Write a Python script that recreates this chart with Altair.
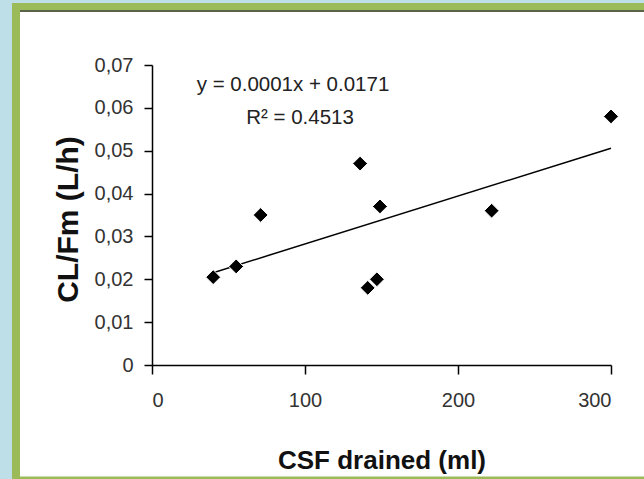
import altair as alt
import pandas as pd

# Data
csf_drained = [40, 55, 71, 136, 149, 147, 141, 222, 300]
cl_fm = [0.0205, 0.023, 0.035, 0.047, 0.037, 0.020, 0.018, 0.036, 0.058]
x_ticks = [0, 100, 200, 300]
y_ticks = [0, 0.01, 0.02, 0.03, 0.04, 0.05, 0.06, 0.07]
equation_text = "y = 0.0001x + 0.0171"
r2_text = "R² = 0.4513"
x_title = "CSF drained (ml)"
y_title = "CL/Fm (L/h)"

df = pd.DataFrame({"csf": csf_drained, "clfm": cl_fm})
one = pd.DataFrame({"k": [0]})

FONT = "Liberation Sans"

x_enc = alt.X(
    "csf:Q",
    scale=alt.Scale(domain=[0, 300], nice=False, zero=True),
    axis=alt.Axis(
        values=x_ticks, title=x_title, grid=False, zindex=1,
        domainColor="black", domainWidth=1.5, tickColor="black", tickWidth=1.5,
        tickSize=9, labelPadding=16, labelFont=FONT, labelFontSize=20,
        labelColor="#333333", titleFont=FONT, titleFontSize=26,
        titleFontWeight="bold", titleColor="#111111",
        titleY=103, titleBaseline="alphabetic",
    ),
)
y_enc = alt.Y(
    "clfm:Q",
    scale=alt.Scale(domain=[0, 0.07], nice=False),
    axis=alt.Axis(
        values=y_ticks, title=y_title, grid=False, zindex=1,
        labelExpr="datum.value == 0 ? '0' : replace(format(datum.value, '.2f'), '.', ',')",
        domainColor="black", domainWidth=1.5, tickColor="black", tickWidth=1.5,
        tickSize=8, labelPadding=11, labelFont=FONT, labelFontSize=20,
        labelColor="#333333", titleFont=FONT, titleFontSize=30,
        titleFontWeight="bold", titleColor="#111111",
        titleX=-75, titleY=154, titleBaseline="alphabetic",
    ),
)

green = alt.Chart(one).mark_rect(color="#9bbb59").encode(
    x=alt.value(-140), x2=alt.value(500), y=alt.value(-62), y2=alt.value(414)
)
white = alt.Chart(one).mark_rect(color="white").encode(
    x=alt.value(-132), x2=alt.value(500), y=alt.value(-53), y2=alt.value(411.5)
)
topline = alt.Chart(one).mark_rule(color="#444444", strokeWidth=1.5).encode(
    x=alt.value(-132), x2=alt.value(500), y=alt.value(-54)
)

trend = alt.Chart(df).transform_regression("csf", "clfm").mark_line(
    color="black", strokeWidth=1.5
).encode(x=x_enc, y=y_enc)

points = alt.Chart(df).mark_point(
    shape="diamond", filled=True, color="black", size=220,
    stroke="white", strokeWidth=1, opacity=1
).encode(x=x_enc, y=y_enc)

eq = alt.Chart(one).mark_text(
    text=equation_text, font=FONT, fontSize=20.5, color="#222222",
    align="center", baseline="alphabetic"
).encode(x=alt.value(141), y=alt.value(26))

r2 = alt.Chart(one).mark_text(
    text=r2_text, font=FONT, fontSize=20.5, color="#222222",
    align="center", baseline="alphabetic"
).encode(x=alt.value(148), y=alt.value(58.5))

chart = alt.layer(green, white, topline, trend, points, eq, r2).properties(
    width=459, height=300,
    autosize=alt.AutoSizeParams(type="none"),
    padding={"left": 152, "top": 65, "right": 33, "bottom": 114},
    background="#bfdfe8",
).configure_view(stroke=None)

chart.save("out.html", embed_options={"renderer": "svg", "actions": False})
